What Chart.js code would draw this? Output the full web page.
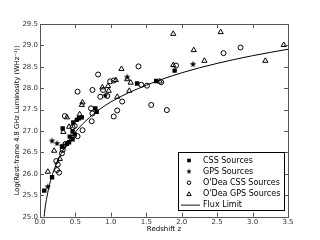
<!DOCTYPE html>
<html><head><meta charset="utf-8">
<script src="https://cdn.jsdelivr.net/npm/chart.js@4.4.1/dist/chart.umd.min.js"></script>
<style>html,body{margin:0;padding:0;background:#fff;}canvas{display:block;}</style>
</head><body>
<canvas id="c" width="320" height="240"></canvas>
<script>
// ---- data ----
const cssZ   = [0.06, 0.17, 0.31, 0.32, 0.38, 0.41, 0.42, 0.46, 0.46, 0.47, 0.52, 0.55, 0.59, 0.49, 0.78, 0.80, 1.37, 1.64, 1.90];
const cssLum = [25.61, 25.92, 26.64, 27.06, 26.70, 26.74, 26.87, 26.81, 26.99, 27.20, 27.26, 27.30, 27.32, 26.92, 27.53, 27.45, 28.11, 28.17, 28.41];

const gpsZ   = [0.11, 0.17, 0.24, 0.92, 1.23, 2.16];
const gpsLum = [25.70, 26.77, 26.71, 27.83, 28.26, 28.56];

const odeaCssZ   = [0.24, 0.27, 0.23, 0.25, 0.31, 0.32, 0.33, 0.36, 0.53, 0.60, 0.46, 0.49, 0.35, 0.73, 0.74, 0.72, 1.04, 1.09, 0.53, 0.74, 0.82, 0.85, 0.89, 0.95, 0.99, 1.04, 1.16, 1.39, 1.43, 1.51, 1.57, 1.71, 1.79, 1.92, 2.59, 2.83];
const odeaCssLum = [26.09, 26.03, 26.30, 26.22, 26.48, 26.56, 26.64, 26.70, 26.88, 27.02, 27.09, 27.12, 27.35, 27.23, 27.41, 27.53, 27.34, 27.48, 27.92, 27.96, 28.32, 27.80, 27.96, 27.82, 28.16, 28.18, 27.69, 28.51, 28.08, 28.06, 27.61, 28.14, 27.49, 28.53, 28.82, 28.95];

const odeaGpsZ   = [0.11, 0.20, 0.28, 0.33, 0.41, 0.38, 0.56, 0.59, 0.60, 0.88, 0.96, 0.97, 1.07, 1.09, 1.15, 1.23, 1.28, 1.26, 1.69, 1.88, 1.88, 2.17, 2.32, 2.55, 3.18, 3.44];
const odeaGpsLum = [26.05, 26.54, 26.35, 26.98, 27.10, 27.32, 27.39, 27.61, 27.67, 28.02, 28.05, 27.94, 28.19, 27.80, 28.45, 28.21, 28.13, 27.94, 28.16, 28.54, 29.27, 28.89, 28.64, 29.31, 28.64, 29.01];

const fluxZ   = [0.058, 0.08, 0.10, 0.12, 0.15, 0.20, 0.30, 0.40, 0.50, 0.70, 1.00, 1.50, 2.00, 2.50, 3.00, 3.50];
const fluxLum = [25.00, 25.30, 25.48, 25.65, 25.85, 26.10, 26.48, 26.76, 26.98, 27.32, 27.68, 28.07, 28.36, 28.58, 28.76, 28.91];

const xTicks = [0.0, 0.5, 1.0, 1.5, 2.0, 2.5, 3.0, 3.5];
const yTicks = [25.0, 25.5, 26.0, 26.5, 27.0, 27.5, 28.0, 28.5, 29.0, 29.5];

const legendLabels = ['CSS Sources', 'GPS Sources', "O'Dea CSS Sources", "O'Dea GPS Sources", 'Flux Limit'];
const xTitle = 'Redshift z';
const yTitle = 'Log(Rest-frame 4.8 GHz Luminosity (WHz\u207B\u00B9))';

// ---- helpers ----
const pts = (xs, ys) => xs.map((x, i) => ({x: x, y: ys[i]}));
const FONT = "'DejaVu Sans', sans-serif";

function makeStar(r, color) {
  const size = Math.ceil(r * 2) + 2;
  const cv = document.createElement('canvas');
  cv.width = size; cv.height = size;
  const c = cv.getContext('2d');
  const cx = size / 2, cy = size / 2;
  c.beginPath();
  for (let i = 0; i < 10; i++) {
    const a = -Math.PI / 2 + i * Math.PI / 5;
    const rr = i % 2 === 0 ? r : r * 0.42;
    c.lineTo(cx + rr * Math.cos(a), cy + rr * Math.sin(a));
  }
  c.closePath(); c.fillStyle = color; c.fill();
  return cv;
}
const starImg = makeStar(3.4, '#000');
const starSmall = makeStar(2.8, '#000');

const frameTicks = {
  id: 'frameTicks',
  afterDatasetsDraw(chart) {
    const {ctx, chartArea: a, scales: {x, y}} = chart;
    ctx.save();
    ctx.strokeStyle = '#555';
    ctx.lineWidth = 1;
    ctx.strokeRect(Math.round(a.left) + 0.5, Math.round(a.top) + 0.5, Math.round(a.right - a.left), Math.round(a.bottom - a.top));
    ctx.beginPath();
    const L = 4;
    x.ticks.forEach(t => {
      const p = Math.round(x.getPixelForValue(t.value)) + 0.5;
      ctx.moveTo(p, a.bottom); ctx.lineTo(p, a.bottom - L);
      ctx.moveTo(p, a.top); ctx.lineTo(p, a.top + L);
    });
    y.ticks.forEach(t => {
      const p = Math.round(y.getPixelForValue(t.value)) + 0.5;
      ctx.moveTo(a.left, p); ctx.lineTo(a.left + L, p);
      ctx.moveTo(a.right, p); ctx.lineTo(a.right - L, p);
    });
    ctx.stroke();
    ctx.restore();
  }
};

const boxLegend = {
  id: 'boxLegend',
  afterDraw(chart) {
    const ctx = chart.ctx;
    const bx = 178.5, by = 152.5, bw = 106, bh = 58;
    ctx.save();
    ctx.fillStyle = '#fff';
    ctx.fillRect(bx, by, bw, bh);
    ctx.strokeStyle = '#000';
    ctx.lineWidth = 1;
    ctx.strokeRect(bx, by, bw, bh);
    const mx = 189, tx = 203;
    const rows = [160.5, 171.5, 182.7, 194, 205.2];
    ctx.font = '8px ' + FONT;
    ctx.textBaseline = 'middle';
    ctx.textAlign = 'left';
    ctx.fillStyle = '#000';
    legendLabels.forEach((lab, i) => {
      const yy = rows[i];
      ctx.fillStyle = '#000';
      ctx.strokeStyle = '#000';
      ctx.lineWidth = 1;
      if (i === 0) {
        ctx.fillRect(mx - 1.8, yy - 1.8, 3.6, 3.6);
      } else if (i === 1) {
        ctx.drawImage(starSmall, mx - starSmall.width / 2, yy - starSmall.height / 2);
      } else if (i === 2) {
        ctx.beginPath(); ctx.arc(mx, yy, 1.8, 0, Math.PI * 2); ctx.stroke();
      } else if (i === 3) {
        ctx.beginPath();
        ctx.moveTo(mx, yy - 2.2); ctx.lineTo(mx + 2.2, yy + 1.6); ctx.lineTo(mx - 2.2, yy + 1.6); ctx.closePath();
        ctx.stroke();
      } else {
        ctx.strokeStyle = '#666';
        ctx.lineWidth = 1.5;
        ctx.beginPath(); ctx.moveTo(181, yy); ctx.lineTo(200, yy); ctx.stroke();
      }
      ctx.fillStyle = '#000';
      ctx.fillText(lab, tx, yy);
    });
    ctx.restore();
  }
};

new Chart(document.getElementById('c'), {
  type: 'scatter',
  data: {
    datasets: [
      {label: legendLabels[0], data: pts(cssZ, cssLum), pointStyle: 'rect', pointRadius: 3.1, backgroundColor: '#000', borderColor: '#000', borderWidth: 0},
      {label: legendLabels[1], data: pts(gpsZ, gpsLum), pointStyle: starImg, pointRadius: 3.4, backgroundColor: '#000', borderColor: '#000'},
      {label: legendLabels[2], data: pts(odeaCssZ, odeaCssLum), pointStyle: 'circle', pointRadius: 2.5, backgroundColor: 'rgba(0,0,0,0)', borderColor: '#000', borderWidth: 1},
      {label: legendLabels[3], data: pts(odeaGpsZ, odeaGpsLum), pointStyle: 'triangle', pointRadius: 3, backgroundColor: 'rgba(0,0,0,0)', borderColor: '#000', borderWidth: 1},
      {label: legendLabels[4], data: pts(fluxZ, fluxLum), showLine: true, pointRadius: 0, borderColor: '#000', borderWidth: 1, cubicInterpolationMode: 'monotone', fill: false}
    ]
  },
  options: {
    responsive: false,
    animation: false,
    devicePixelRatio: 1,
    layout: {padding: {left: 0, top: 24, right: 32, bottom: 0}},
    plugins: {legend: {display: false}, tooltip: {enabled: false}},
    scales: {
      x: {
        type: 'linear', min: 0, max: 3.5,
        afterBuildTicks: s => { s.ticks = xTicks.map(v => ({value: v})); },
        afterFit: s => { s.height = 23.3; },
        grid: {display: false, drawTicks: false},
        border: {display: false},
        ticks: {padding: 1, color: '#333', font: {family: FONT, size: 7}, callback: v => Number(v).toFixed(1)},
        title: {display: true, text: xTitle, color: '#000', font: {family: FONT, size: 7}, padding: {top: 0, bottom: 7}}
      },
      y: {
        type: 'linear', min: 25, max: 29.5,
        afterBuildTicks: s => { s.ticks = yTicks.map(v => ({value: v})); },
        afterFit: s => { s.width = 40; },
        grid: {display: false, drawTicks: false},
        border: {display: false},
        ticks: {padding: 2, color: '#333', font: {family: FONT, size: 7}, callback: v => Number(v).toFixed(1)},
        title: {display: true, text: yTitle, color: '#000', font: {family: FONT, size: 6.7}, padding: {top: 12.8, bottom: 0}}
      }
    }
  },
  plugins: [frameTicks, boxLegend]
});
</script>
</body></html>
